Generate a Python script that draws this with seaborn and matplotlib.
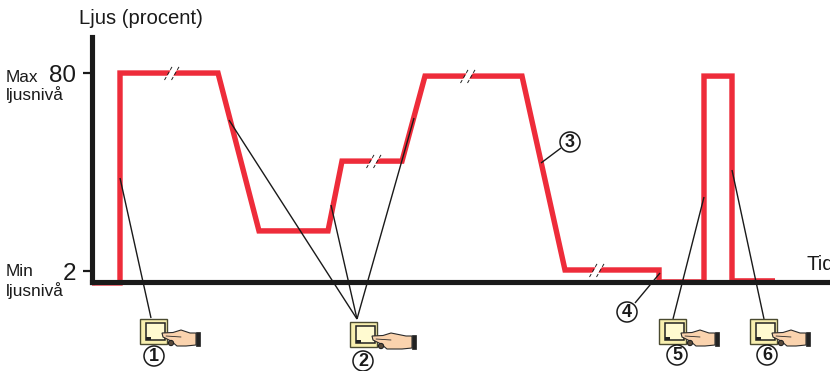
import matplotlib
matplotlib.use("Agg")
import matplotlib.pyplot as plt
from matplotlib.patches import Polygon, Rectangle, Circle
import pandas as pd
import seaborn as sns

time = [0, 28, 28, 126, 167, 236, 250, 310, 333, 430, 473, 567, 567, 612, 612, 640, 640, 683]
light = [-2.7, -2.7, 80, 80, 17.8, 17.8, 45.3, 45.3, 78.8, 78.8, 2.4, 2.4, -2.3, -2.3, 78.8, 78.8, -1.9, -1.9]
y_ticks = [2, 80]
y_labels = ["2", "80"]
y_title = "Ljus (procent)"
x_title = "Tid"
level_labels = [("Max", "ljusnivå"), ("Min", "ljusnivå")]

RED = "#EE2C3A"
sns.set_style("white")
plt.rcParams["font.family"] = ["Liberation Sans", "DejaVu Sans"]

W, H = 830, 371
fig = plt.figure(figsize=(W / 100, H / 100), dpi=100)
ax = fig.add_axes([92 / W, (H - 282) / H, 736 / W, 245 / H])
df = pd.DataFrame({"t": time, "l": light})
sns.lineplot(data=df, x="t", y="l", sort=False, estimator=None, color=RED, lw=3.9,
             ax=ax, clip_on=False, zorder=2, solid_joinstyle="miter", solid_capstyle="butt")
ax.set_xlim(0, 736)
ax.set_ylim(-2.33, 94.2)
ax.set_xlabel("")
ax.set_ylabel("")
ax.set_xticks([])
ax.set_yticks(y_ticks)
ax.set_yticklabels(y_labels, fontsize=17.5, color="#1a1a1a")
ax.tick_params(axis="y", length=6.5, width=1.6, color="#1a1a1a", pad=5, left=True)
for s in ["top", "right"]:
    ax.spines[s].set_visible(False)
for s in ["left", "bottom"]:
    ax.spines[s].set_linewidth(3.7)
    ax.spines[s].set_color("#1a1a1a")
    ax.spines[s].set_zorder(5)
ax.patch.set_alpha(0)

# pixel-space overlay for the annotations
ov = fig.add_axes([0, 0, 1, 1])
ov.set_xlim(0, W)
ov.set_ylim(H, 0)
ov.axis("off")
ov.patch.set_alpha(0)

TXT = "#1a1a1a"
ov.text(79, 19, y_title, fontsize=14.6, color=TXT, va="center", ha="left")
ov.text(806, 265, x_title, fontsize=14.6, color=TXT, va="center", ha="left")
for (first, second), yy in zip(level_labels, [(78, 95), (272, 291)]):
    ov.text(6, yy[0], first, fontsize=12.4, color=TXT, va="center", ha="left")
    ov.text(6, yy[1], second, fontsize=12.4, color=TXT, va="center", ha="left")

# leader lines
leaders = [((120, 178), (151, 318)), ((229, 120), (357, 319)), ((331, 205), (357, 319)),
           ((414, 118), (357, 319)), ((660, 273), (635, 303)), ((704, 197), (673, 319)),
           ((732, 170), (764, 319)), ((541, 163), (561, 148))]
for (x0, y0), (x1, y1) in leaders:
    ov.plot([x0, x1], [y0, y1], color="#1a1a1a", lw=1.0, zorder=3, solid_capstyle="butt")

# axis-break marks
for bx, by in [(172, 73), (374, 161), (468, 76), (597, 270)]:
    ov.add_patch(Polygon([(bx - 6, by + 5), (bx + 0, by - 5), (bx + 6, by - 5), (bx + 0, by + 5)],
                         fc="white", ec="none", zorder=4))
    for d in (-3.5, 3.5):
        ov.plot([bx + d - 4, bx + d + 4], [by + 7, by - 7], color="#222222", lw=0.7,
                ls=(0, (3.5, 2.5)), zorder=5)

SKIN = "#FAD3AE"
def switch(x, y, longhand=0):
    ov.add_patch(Rectangle((x, y), 27, 25, fc="#F8EFAE", ec="#4a4a30", lw=1.0, zorder=6))
    ov.add_patch(Rectangle((x + 6, y + 4), 19, 17, fc="#FFFAD0", ec="#222222", lw=1.1, zorder=7))
    ov.add_patch(Rectangle((x + 6, y + 18), 5, 3, fc="#222222", ec="none", zorder=7))
    e = longhand
    hand = [(x + 22, y + 14), (x + 33, y + 13.5), (x + 41, y + 11), (x + 50 + e, y + 14),
            (x + 56 + e, y + 14), (x + 56 + e, y + 26), (x + 46 + e, y + 27),
            (x + 37, y + 27), (x + 31, y + 22), (x + 23, y + 18)]
    ov.add_patch(Polygon(hand, fc=SKIN, ec="#2a2a2a", lw=0.8, zorder=8))
    ov.plot([x + 26, x + 41], [y + 17, y + 18], color="#2a2a2a", lw=0.6, zorder=9)
    ov.add_patch(Rectangle((x + 56 + e, y + 12.5), 4, 14.5, fc="#222222", ec="#222222", lw=0.5, zorder=9))
    ov.add_patch(Circle((x + 31, y + 24), 2.6, fc="#5a4a3a", ec="#222222", lw=0.8, zorder=9))

switch(140, 319)
switch(350, 322, longhand=6)
switch(659, 319)
switch(750, 319)

for label, cx, cy in [("1", 154, 356), ("2", 363, 361), ("3", 570, 142), ("4", 627, 312),
                      ("5", 677, 355), ("6", 767, 355)]:
    ov.add_patch(Circle((cx, cy), 10, fc="white", ec="#1a1a1a", lw=1.1, zorder=10))
    ov.text(cx, cy + 0.5, label, fontsize=13, fontweight="bold", color="#1a1a1a",
            ha="center", va="center", zorder=11)

fig.savefig("out.png", dpi=100)
